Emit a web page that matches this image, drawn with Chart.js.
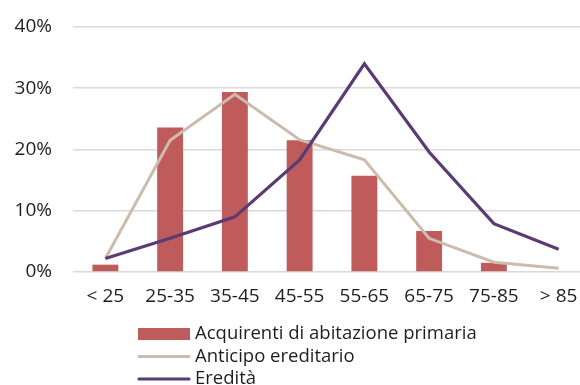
<!DOCTYPE html>
<html>
<head>
<meta charset="utf-8">
<script src="https://cdn.jsdelivr.net/npm/chart.js@4"></script>
<style>
  html, body { margin: 0; padding: 0; background: #fff; overflow: hidden; }
  #wrap { width: 591px; height: 385px; position: relative; }
</style>
</head>
<body>
<div id="wrap"><canvas id="c"></canvas></div>
<script>
// Fasce d'età
const categories = ['< 25', '25-35', '35-45', '45-55', '55-65', '65-75', '75-85', '> 85'];

// Quote percentuali per fascia d'età
const acquirenti = [1.2, 23.6, 29.4, 21.5, 15.7, 6.7, 1.5, 0];
const anticipo = [2.2, 21.5, 29.0, 21.6, 18.3, 5.5, 1.6, 0.6];
const eredita = [2.2, 5.5, 9.0, 18.3, 34.0, 19.6, 7.9, 3.7];

// Etichette dell'asse verticale
const yTicks = [0, 10, 20, 30, 40];

const FONT = '"Open Sans", sans-serif';
const TEXT = '#1e1e1e';
const SIZE = 19;

// Legenda a colonna sotto il grafico
const columnLegend = {
  id: 'columnLegend',
  afterDraw(chart, args, opts) {
    const ctx = chart.ctx;
    ctx.save();
    ctx.font = opts.fontSize + 'px ' + FONT;
    ctx.textBaseline = 'middle';
    ctx.textAlign = 'left';
    chart.data.datasets.forEach((ds, i) => {
      const y = opts.top + i * opts.rowHeight;
      const x0 = opts.left, x1 = opts.left + opts.symbolWidth;
      if (ds.type === 'bar') {
        ctx.fillStyle = ds.backgroundColor;
        ctx.fillRect(x0, y - 6, opts.symbolWidth, 12);
      } else {
        ctx.strokeStyle = ds.borderColor;
        ctx.lineWidth = ds.borderWidth;
        ctx.lineCap = 'round';
        ctx.beginPath();
        ctx.moveTo(x0 + 1, y);
        ctx.lineTo(x1 - 1, y);
        ctx.stroke();
      }
      ctx.fillStyle = TEXT;
      ctx.fillText(ds.label, x1 + opts.gap, y);
    });
    ctx.restore();
  }
};

new Chart(document.getElementById('c'), {
  data: {
    labels: categories,
    datasets: [
      {
        type: 'bar',
        label: 'Acquirenti di abitazione primaria',
        data: acquirenti,
        backgroundColor: '#c05b5b',
        barPercentage: 0.4,
        categoryPercentage: 1,
        order: 3
      },
      {
        type: 'line',
        label: 'Anticipo ereditario',
        data: anticipo,
        borderColor: '#cbbcab',
        borderWidth: 3,
        pointRadius: 0,
        tension: 0,
        order: 2
      },
      {
        type: 'line',
        label: 'Eredità',
        data: eredita,
        borderColor: '#5a3b74',
        borderWidth: 3.2,
        pointRadius: 0,
        tension: 0,
        order: 1
      }
    ]
  },
  options: {
    responsive: true,
    maintainAspectRatio: false,
    animation: false,
    layout: { padding: { top: 27, right: 0, bottom: 73, left: 0 } },
    plugins: {
      legend: { display: false },
      tooltip: { enabled: false },
      columnLegend: { left: 138, top: 334, rowHeight: 22.5, symbolWidth: 52, gap: 5, fontSize: 18.5 }
    },
    scales: {
      x: {
        afterFit(scale) {
          scale.height = 40;
          scale.paddingLeft = 0;
          scale.paddingRight = 0;
        },
        grid: { display: false, drawTicks: false },
        border: { display: false },
        ticks: { color: TEXT, font: { family: FONT, size: SIZE }, padding: 13, maxRotation: 0, autoSkip: false }
      },
      y: {
        min: 0,
        max: 40,
        afterFit(scale) {
          scale.width = 73;
          scale.paddingTop = 0;
          scale.paddingBottom = 0;
        },
        afterBuildTicks(scale) { scale.ticks = yTicks.map(v => ({ value: v })); },
        grid: { color: '#d9d9d9', lineWidth: 1.6, drawTicks: false },
        border: { display: false },
        ticks: {
          color: TEXT,
          font: { family: FONT, size: SIZE },
          padding: 21,
          callback: v => v + '%'
        }
      }
    }
  },
  plugins: [columnLegend]
});
</script>
</body>
</html>
